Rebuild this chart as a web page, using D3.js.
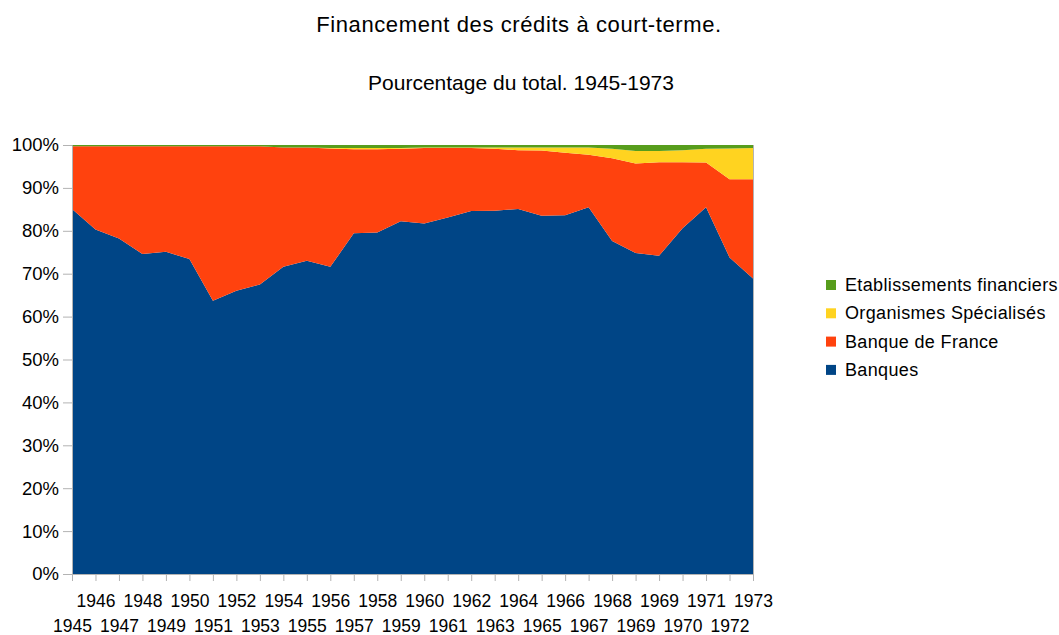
<!DOCTYPE html>
<html>
<head>
<meta charset="utf-8">
<script src="https://cdn.jsdelivr.net/npm/d3@7"></script>
<style>
  body { margin: 0; background: #fff; }
  svg text { font-family: "Liberation Sans", Arial, sans-serif; fill: #000; }
</style>
</head>
<body>
<div id="chart"></div>
<script>
// years as printed on the axis (1969 appears twice in the source)
const years = ['1945','1946','1947','1948','1949','1950','1951','1952','1953','1954',
  '1955','1956','1957','1958','1959','1960','1961','1962','1963','1964',
  '1965','1966','1967','1968','1969','1969','1970','1971','1972','1973'];

// percent of total
const banques = [85.1,80.3,78.2,74.6,75.1,73.4,63.7,66.0,67.5,71.6,
  73.0,71.6,79.4,79.6,82.2,81.7,83.1,84.6,84.7,85.1,
  83.5,83.6,85.5,77.6,74.8,74.2,80.6,85.5,73.8,68.9];
const banqueDeFrance = [14.6,19.4,21.5,25.1,24.6,26.3,36.0,33.7,32.2,27.8,
  26.4,27.6,19.6,19.4,16.9,17.6,16.2,14.7,14.4,13.7,
  15.2,14.6,12.2,19.3,20.9,21.8,15.4,10.4,18.2,23.1];
const organismes = [0,0,0,0,0,0,0,0,0,0,
  0,0.1,0.3,0.3,0.2,0.1,0.1,0.1,0.3,0.6,
  0.7,1.2,1.7,2.2,2.9,2.6,2.8,3.2,7.2,7.3];
const etablissements = [0.3,0.3,0.3,0.3,0.3,0.3,0.3,0.3,0.3,0.6,
  0.6,0.7,0.7,0.7,0.7,0.6,0.6,0.6,0.6,0.6,
  0.6,0.6,0.6,0.9,1.4,1.4,1.2,0.9,0.8,0.7];

const yTicks = [0,10,20,30,40,50,60,70,80,90,100];

const seriesNames = ['Banques', 'Banque de France', 'Organismes Spécialisés', 'Etablissements financiers'];
const colors = ['#004586', '#ff420e', '#ffd320', '#579d1c'];

const width = 1059, height = 635;
const margin = {top: 145, right: 306, bottom: 61, left: 72};
const innerW = width - margin.left - margin.right;
const innerH = height - margin.top - margin.bottom;

const table = years.map((y, i) => ({
  i, year: y,
  s0: banques[i], s1: banqueDeFrance[i], s2: organismes[i], s3: etablissements[i]
}));

const stack = d3.stack().keys(['s0','s1','s2','s3']);
const stacked = stack(table);

const svg = d3.select('#chart').append('svg')
  .attr('width', width)
  .attr('height', height);

const xScale = d3.scalePoint()
  .domain(d3.range(years.length))
  .range([0, innerW]);

const yScale = d3.scaleLinear()
  .domain([0, 100])
  .range([innerH, 0]);

const g = svg.append('g')
  .attr('transform', `translate(${margin.left}, ${margin.top})`);

const area = d3.area()
  .x(d => xScale(d.data.i))
  .y0(d => yScale(d[0]))
  .y1(d => yScale(d[1]));

g.selectAll('.layer')
  .data(stacked)
  .enter()
  .append('path')
  .attr('class', 'layer')
  .attr('fill', (d, i) => colors[i])
  .attr('d', area);

// right border of plot area
g.append('line')
  .attr('x1', innerW + 0.5).attr('x2', innerW + 0.5)
  .attr('y1', 0).attr('y2', innerH)
  .attr('stroke', '#b3b3b3');

const yAxis = d3.axisLeft(yScale)
  .tickValues(yTicks)
  .tickSize(9)
  .tickPadding(4)
  .tickFormat(d => d + '%');

const yG = g.append('g').attr('class', 'y axis').call(yAxis);

const xAxis = d3.axisBottom(xScale)
  .tickSize(7)
  .tickFormat(i => years[i]);

const xG = g.append('g')
  .attr('class', 'x axis')
  .attr('transform', `translate(0, ${innerH})`)
  .call(xAxis);

[yG, xG].forEach(a => {
  a.select('.domain').attr('stroke', '#b3b3b3');
  a.selectAll('.tick line').attr('stroke', '#b3b3b3');
  a.selectAll('.tick text')
    .style('font-family', '"Liberation Sans", Arial, sans-serif')
    .attr('fill', '#000');
});
yG.selectAll('.tick text').style('font-size', '18.5px');
xG.selectAll('.tick text').style('font-size', '17.5px');

// staggered x labels: odd indices on the upper row
xG.selectAll('.tick text')
  .attr('y', (i) => i % 2 === 1 ? 33 : 58)
  .attr('dy', '0');

// titles
svg.append('text')
  .attr('x', 519).attr('y', 32)
  .attr('text-anchor', 'middle')
  .style('font-size', '22px')
  .style('letter-spacing', '0.6px')
  .text('Financement des crédits à court-terme.');

svg.append('text')
  .attr('x', 521).attr('y', 90)
  .attr('text-anchor', 'middle')
  .style('font-size', '21px')
  .text('Pourcentage du total. 1945-1973');

// legend, top entry is the top layer
const legendItems = seriesNames.map((n, i) => ({ name: n, color: colors[i] })).reverse();
const legend = svg.append('g')
  .attr('transform', 'translate(826, 285)');

const rows = legend.selectAll('.legend-row')
  .data(legendItems)
  .enter()
  .append('g')
  .attr('class', 'legend-row')
  .attr('transform', (d, i) => `translate(0, ${i * 28.3})`);

rows.append('rect')
  .attr('x', 0).attr('y', -5)
  .attr('width', 10).attr('height', 10)
  .attr('fill', d => d.color);

rows.append('text')
  .attr('x', 19).attr('y', 6)
  .style('font-size', '18px')
  .style('letter-spacing', '0.35px')
  .text(d => d.name);
</script>
</body>
</html>
